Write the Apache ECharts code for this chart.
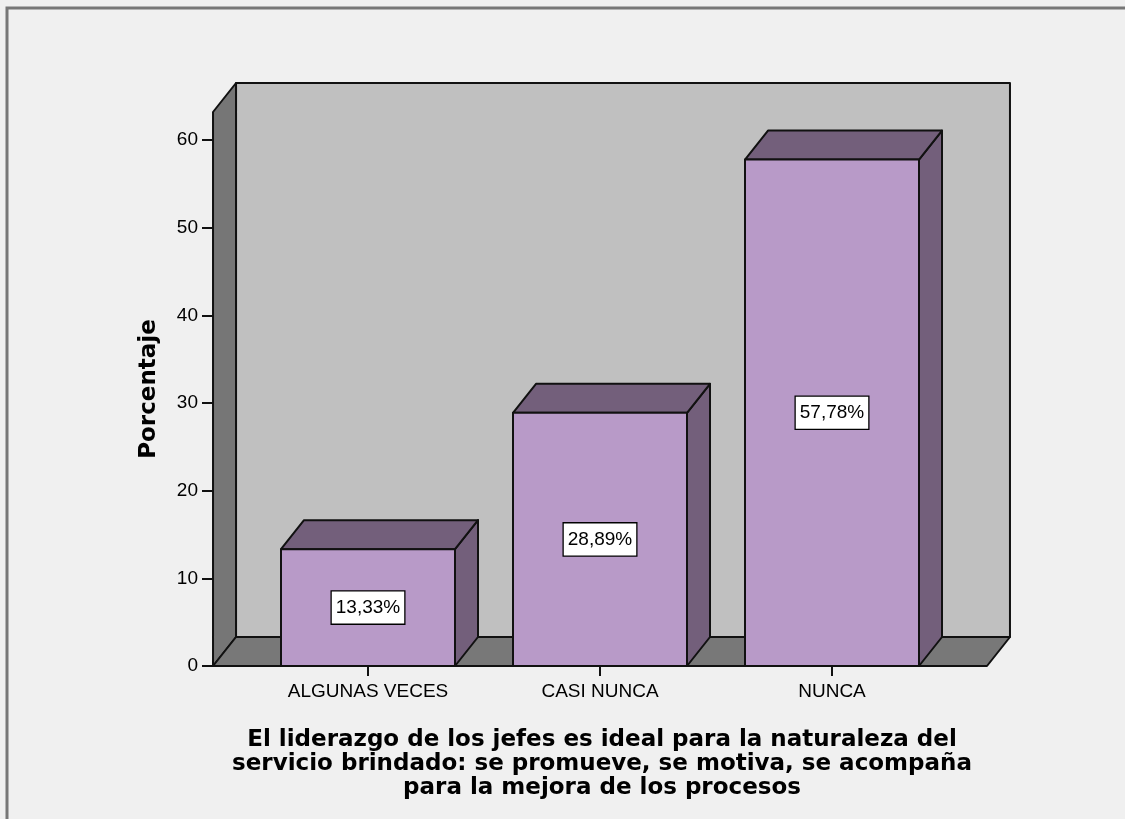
<!DOCTYPE html>
<html>
<head>
    <meta charset="utf-8">
    <script src="https://cdn.jsdelivr.net/npm/echarts@6/dist/echarts.min.js"></script>
</head>
<body style="margin:0;background:#f0f0f0;">
    <div id="main" style="width:1125px;height:819px;"></div>
<script>
    // datos del gráfico
    var categorias = ['ALGUNAS VECES', 'CASI NUNCA', 'NUNCA'];
    var porcentajes = [13.33, 28.89, 57.78];
    var ticksY = [0, 10, 20, 30, 40, 50, 60];
    var maxY = 63.2;
    var tituloX = [
        'El liderazgo de los jefes es ideal para la naturaleza del',
        'servicio brindado: se promueve, se motiva, se acompaña',
        'para la mejora de los procesos'
    ];
    var tituloY = 'Porcentaje';

    // profundidad del efecto 3D (px)
    var DX = 23, DY = 29;
    var borde = {stroke: '#111', lineWidth: 2, lineJoin: 'round'};

    function etiqueta(v) {
        return v.toFixed(2).replace('.', ',') + '%';
    }

    // paredes y piso
    function renderFondo(params, api) {
        var bw = api.size([1, 0])[0];
        var p0 = api.coord([0, 0]);
        var pt = api.coord([0, maxY]);
        var x0 = p0[0] - bw * 0.668;
        var x1 = api.coord([categorias.length - 1, 0])[0] + bw * 0.668;
        var y0 = p0[1], yt = pt[1];
        return {
            type: 'group',
            children: [
                {type: 'rect', shape: {x: x0 + DX, y: yt - DY, width: x1 - x0, height: y0 - yt},
                    style: Object.assign({fill: '#c0c0c0'}, borde)},
                {type: 'polygon', shape: {points: [[x0, y0], [x0, yt], [x0 + DX, yt - DY], [x0 + DX, y0 - DY]]},
                    style: Object.assign({fill: '#767676'}, borde)},
                {type: 'polygon', shape: {points: [[x0, y0], [x1, y0], [x1 + DX, y0 - DY], [x0 + DX, y0 - DY]]},
                    style: Object.assign({fill: '#787878'}, borde)}
            ]
        };
    }

    // barras 3D
    function renderBarra(params, api) {
        var i = api.value(0), v = api.value(1);
        var bw = api.size([1, 0])[0] * 0.75;
        var base = api.coord([i, 0]);
        var top = api.coord([i, v]);
        var xl = base[0] - bw / 2, xr = base[0] + bw / 2;
        var yb = base[1], yt = top[1];
        return {
            type: 'group',
            children: [
                {type: 'polygon', shape: {points: [[xr, yb], [xr, yt], [xr + DX, yt - DY], [xr + DX, yb - DY]]},
                    style: Object.assign({fill: '#735f7b'}, borde)},
                {type: 'polygon', shape: {points: [[xl, yt], [xr, yt], [xr + DX, yt - DY], [xl + DX, yt - DY]]},
                    style: Object.assign({fill: '#735f7b'}, borde)},
                {type: 'rect', shape: {x: xl, y: yt, width: bw, height: yb - yt},
                    style: Object.assign({fill: '#b89ac8'}, borde)},
                {type: 'text', x: base[0], y: (yb + yt) / 2,
                    style: {
                        text: etiqueta(v), fill: '#000',
                        fontFamily: 'Liberation Sans', fontSize: 19,
                        align: 'center', verticalAlign: 'middle',
                        backgroundColor: '#fff', borderColor: '#000', borderWidth: 1.3,
                        padding: [7, 4, 6, 4]
                    }}
            ]
        };
    }

    var chart = echarts.init(document.getElementById('main'));
    chart.setOption({
        backgroundColor: '#f0f0f0',
        animation: false,
        title: {
            text: tituloX.join('\n'),
            left: 597,
            top: 723,
            textAlign: 'center',
            textStyle: {fontFamily: 'DejaVu Sans', fontWeight: 'bold', fontSize: 23, lineHeight: 24, color: '#000'}
        },
        graphic: [{
            type: 'rect',
            shape: {x: 7, y: 8, width: 1300, height: 1000},
            style: {fill: 'none', stroke: '#777', lineWidth: 3}
        }],
        grid: {left: 252, right: 177, top: 112, bottom: 153},
        xAxis: {
            type: 'category',
            data: categorias,
            axisLine: {show: false},
            axisTick: {show: true, alignWithLabel: true, length: 10, lineStyle: {color: '#111', width: 2}},
            axisLabel: {fontFamily: 'Liberation Sans', fontSize: 19, color: '#000', margin: 16}
        },
        yAxis: {
            type: 'value',
            min: 0,
            max: maxY,
            interval: 10,
            offset: 39,
            name: tituloY,
            nameLocation: 'middle',
            nameGap: 52,
            nameTextStyle: {fontFamily: 'DejaVu Sans', fontWeight: 'bold', fontSize: 23, color: '#000'},
            axisLine: {show: false},
            splitLine: {show: false},
            axisTick: {show: true, customValues: ticksY, length: 11, lineStyle: {color: '#111', width: 2}},
            axisLabel: {customValues: ticksY, fontFamily: 'Liberation Sans', fontSize: 19, color: '#000', margin: 15}
        },
        series: [{
            type: 'custom',
            renderItem: renderFondo,
            clip: false,
            silent: true,
            data: [[0, 0]]
        }, {
            type: 'custom',
            renderItem: renderBarra,
            clip: false,
            data: porcentajes.map(function (v, i) { return [i, v]; })
        }]
    });
</script>
</body>
</html>
